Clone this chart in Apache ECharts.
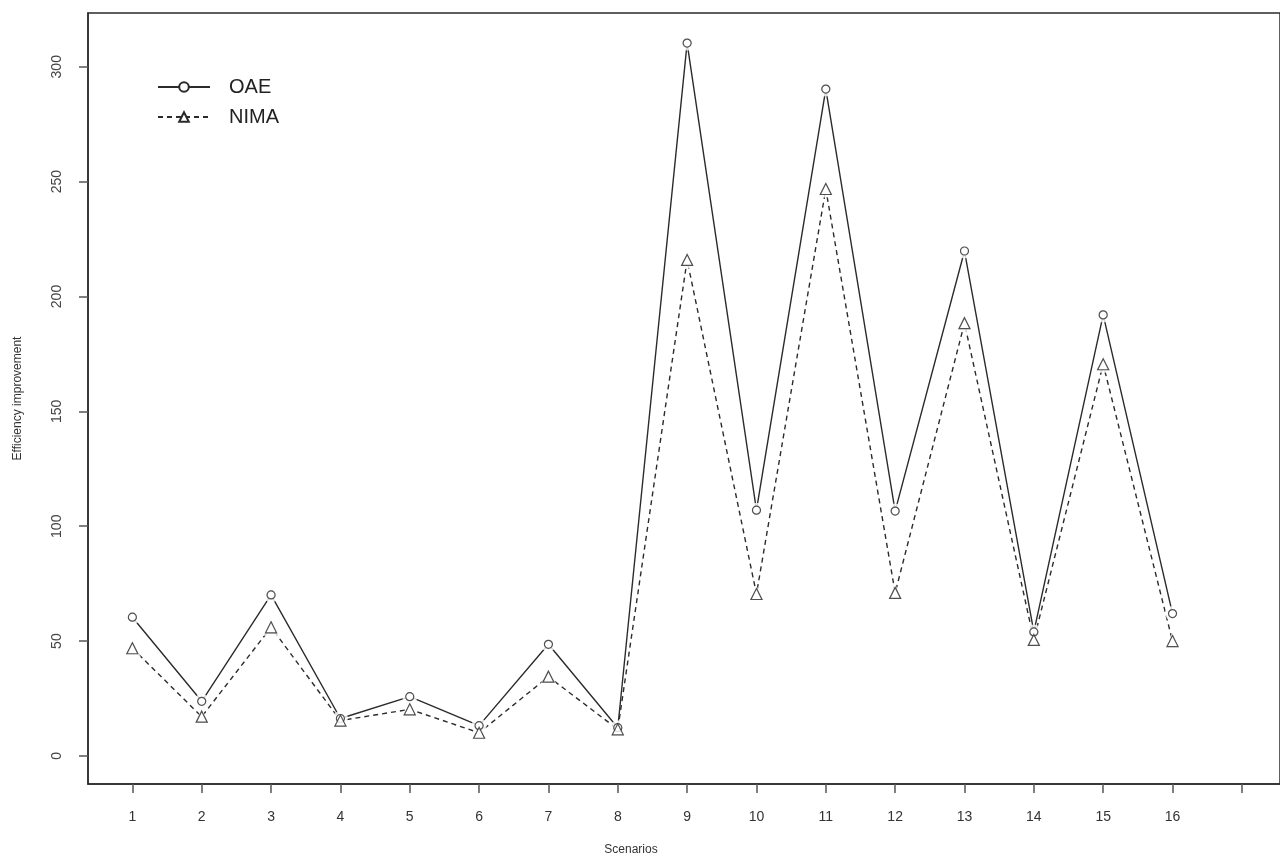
<!DOCTYPE html>
<html>
<head>
<meta charset="utf-8">
<script src="https://cdn.jsdelivr.net/npm/echarts@6/dist/echarts.min.js"></script>
<style>
html,body{margin:0;padding:0;background:#fff;}
#chart{width:1280px;height:862px;}
</style>
</head>
<body>
<div id="chart"></div>
<script>
const scenarios = [1,2,3,4,5,6,7,8,9,10,11,12,13,14,15,16];
const oae  = [60.4, 23.8, 70.1, 16.3, 25.8, 13.2, 48.6, 12.3, 310.3, 107.0, 290.3, 106.6, 219.8, 54.0, 192.0, 62.0];
const nima = [46.9, 17.1, 56.0, 15.4, 20.3, 10.1, 34.5, 11.6, 215.9, 70.5, 246.8, 71.0, 188.4, 50.5, 170.5, 50.0];
const yTicks = [0, 50, 100, 150, 200, 250, 300];
const xTicks = [1,2,3,4,5,6,7,8,9,10,11,12,13,14,15,16,17];
const xLabels = [1,2,3,4,5,6,7,8,9,10,11,12,13,14,15,16];

const col = '#2b2b2b';
const font = '"Liberation Sans", Arial, sans-serif';
const oaePts = scenarios.map((s, i) => [s, oae[i]]);
const nimaPts = scenarios.map((s, i) => [s, nima[i]]);

const chart = echarts.init(document.getElementById('chart'), null, {renderer:'canvas'});
chart.setOption({
  animation: false,
  backgroundColor: '#fff',
  grid: {left: 88, top: 13, right: -2, bottom: 78, show: true, borderColor: col, borderWidth: 1.5},
  legend: {
    orient: 'vertical', left: 152, top: 72, itemWidth: 52, itemHeight: 12, itemGap: 10,
    textStyle: {fontFamily: font, fontSize: 20, color: '#222', padding: [0,0,0,14]},
    data: ['OAE', 'NIMA']
  },
  xAxis: {
    type: 'value', min: 0.36, max: 17.55,
    name: 'Scenarios', nameLocation: 'middle', nameGap: 60,
    nameTextStyle: {fontFamily: font, fontSize: 12, color: '#333', padding: [0, 106, 0, 0]},
    axisLine: {show: true, onZero: false, lineStyle: {color: col, width: 1.5}},
    axisTick: {show: true, length: 9, lineStyle: {color: '#555', width: 1.5}, customValues: xTicks},
    axisLabel: {fontFamily: font, fontSize: 14, color: '#333', margin: 26, customValues: xLabels},
    splitLine: {show: false}
  },
  yAxis: {
    type: 'value', min: -12.2, max: 323.4,
    name: 'Efficiency improvement', nameLocation: 'middle', nameGap: 64, nameRotate: 90,
    nameTextStyle: {fontFamily: font, fontSize: 12, color: '#333'},
    axisLine: {show: true, onZero: false, lineStyle: {color: col, width: 1.5}},
    axisTick: {show: true, length: 9, lineStyle: {color: '#555', width: 1.5}, customValues: yTicks},
    axisLabel: {fontFamily: font, fontSize: 14, color: '#444', rotate: 90, margin: 24, customValues: yTicks},
    splitLine: {show: false}
  },
  series: [
    {
      name: 'OAE', type: 'line', data: oaePts,
      symbol: 'circle', symbolSize: 8, showAllSymbol: true,
      lineStyle: {color: col, width: 1.4, type: 'solid'},
      itemStyle: {color: '#fff', borderColor: col, borderWidth: 1.2},
      z: 2
    },
    {
      name: 'NIMA', type: 'line', data: nimaPts,
      symbol: 'triangle', symbolSize: 11, showAllSymbol: true,
      lineStyle: {color: col, width: 1.4, type: [5, 4]},
      itemStyle: {color: '#fff', borderColor: col, borderWidth: 1.2},
      z: 2
    },
    {
      name: 'maskO', type: 'scatter', data: oaePts, symbol: 'circle', symbolSize: 15,
      itemStyle: {color: '#fff'}, silent: true, z: 3
    },
    {
      name: 'maskN', type: 'scatter', data: nimaPts, symbol: 'triangle', symbolSize: 17,
      itemStyle: {color: '#fff'}, silent: true, z: 3
    },
    {
      name: 'markO', type: 'scatter', data: oaePts, symbol: 'circle', symbolSize: 8,
      itemStyle: {color: '#fff', borderColor: col, borderWidth: 1.2}, silent: true, z: 4
    },
    {
      name: 'markN', type: 'scatter', data: nimaPts, symbol: 'triangle', symbolSize: 11,
      itemStyle: {color: '#fff', borderColor: col, borderWidth: 1.2}, silent: true, z: 4
    }
  ]
});
</script>
</body>
</html>
